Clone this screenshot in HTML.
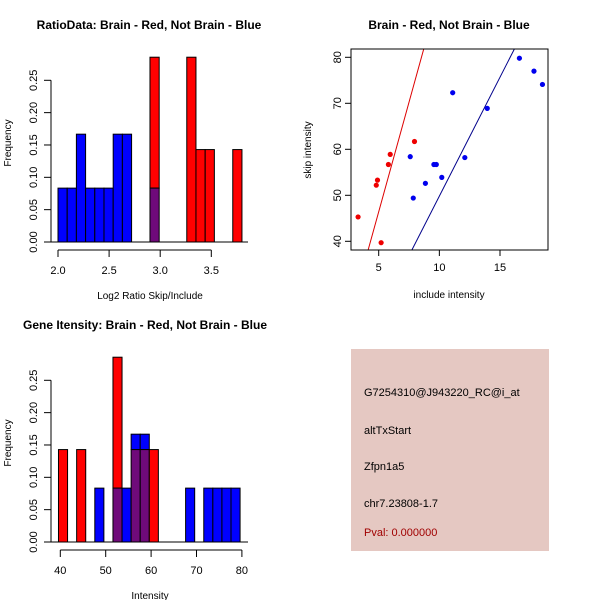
<!DOCTYPE html>
<html><head><meta charset="utf-8"><style>
body{margin:0;background:#fff}
svg{display:block;font-family:"Liberation Sans",sans-serif}
</style></head><body>
<svg id="c" width="600" height="600" viewBox="0 0 600 600">
<rect width="600" height="600" fill="#fff"/>
<text x="149" y="29" font-size="12" font-weight="bold" text-anchor="middle">RatioData: Brain - Red, Not Brain - Blue</text>
<text x="449" y="29" font-size="12" font-weight="bold" text-anchor="middle">Brain - Red, Not Brain - Blue</text>
<text x="145" y="329" font-size="12" font-weight="bold" text-anchor="middle">Gene Itensity: Brain - Red, Not Brain - Blue</text>
<g id="h1"></g>
<g id="h2"></g>
<g id="sc"></g>
<g>
<rect x="351" y="349" width="198" height="202" fill="#e5c8c2"/>
<text x="364" y="396" font-size="11">G7254310@J943220_RC@i_at</text>
<text x="364" y="434" font-size="11">altTxStart</text>
<text x="364" y="470" font-size="11">Zfpn1a5</text>
<text x="364" y="507" font-size="11">chr7.23808-1.7</text>
<text x="364" y="536" font-size="11" fill="#a00000">Pval: 0.000000</text>
</g>
</svg>
<script>
// Ratio histogram data
const h1Start = 2.0, h1Width = 0.09;
const h1Red = [0,0,0,0,0,0,0,0,0,0,0.2857,0,0,0,0.2857,0.1429,0.1429,0,0,0.1429];
const h1Blue = [0.0833,0.0833,0.1667,0.0833,0.0833,0.0833,0.1667,0.1667,0,0,0.0833,0,0,0,0,0,0,0,0,0];
const h1XTicks = [2.0,2.5,3.0,3.5];
const h1XLabels = ["2.0","2.5","3.0","3.5"];
// Intensity histogram data
const h2Start = 39.6, h2Width = 2;
const h2Red = [0.1429,0,0.1429,0,0,0,0.2857,0,0.1429,0.1429,0.1429,0,0,0,0,0,0,0,0,0];
const h2Blue = [0,0,0,0,0.0833,0,0.0833,0.0833,0.1667,0.1667,0,0,0,0,0.0833,0,0.0833,0.0833,0.0833,0.0833];
const h2XTicks = [40,50,60,70,80];
const h2XLabels = ["40","50","60","70","80"];
const yTicks = [0,0.05,0.10,0.15,0.20,0.25];
const yLabels = ["0.00","0.05","0.10","0.15","0.20","0.25"];
// Scatter data
const redX = [3.3,4.8,4.9,5.2,5.8,5.95,7.95];
const redY = [45.3,52.2,53.3,39.7,56.7,58.9,61.7];
const blueX = [7.6,7.85,8.85,9.55,9.75,10.2,11.1,12.1,13.95,16.6,17.8,18.5];
const blueY = [58.4,49.4,52.6,56.7,56.7,53.9,72.3,58.2,68.9,79.8,77,74.1];
const redFit = [-1.23, 9.53];
const blueFit = [-1.88, 5.17];
const scXTicks = [5,10,15];
const scYTicks = [40,50,60,70,80];

const NS="http://www.w3.org/2000/svg";
function mk(p,t,a){const e=document.createElementNS(NS,t);for(const k in a)e.setAttribute(k,a[k]);p.appendChild(e);return e;}

function hist(g,cfg){
  const sx=v=>cfg.x0+(v-cfg.d0)*cfg.kx, sy=v=>cfg.y0-v*cfg.ky;
  for(let i=0;i<cfg.red.length;i++){
    const l=sx(cfg.start+i*cfg.w), r=sx(cfg.start+(i+1)*cfg.w);
    const rv=cfg.red[i], bv=cfg.blue[i], lo=Math.min(rv,bv);
    const hi=Math.max(rv,bv);
    if(hi>0){
      const top=mk(g,'rect',{x:l,y:sy(hi),width:r-l,height:sy(lo)-sy(hi),fill:rv>bv?'#ff0000':'#0000ff',stroke:'#000','stroke-width':1});
      
      
    }
    if(lo>0){
      const ov=mk(g,'rect',{x:l,y:sy(lo),width:r-l,height:sy(0)-sy(lo),fill:'#6f0a7a',stroke:'#000','stroke-width':1});
      
      
    }
  }
  const base=mk(g,'line',{x1:cfg.ax0,x2:cfg.ax1,y1:cfg.y0,y2:cfg.y0,stroke:'#000'});
  
  
  const ya=mk(g,'line',{x1:cfg.ax0,x2:cfg.ax0,y1:cfg.y0,y2:sy(0.25),stroke:'#000'});
  
  
  yTicks.forEach((v,i)=>{
    mk(g,'line',{x1:cfg.ax0-7,x2:cfg.ax0,y1:sy(v),y2:sy(v),stroke:'#000'});
    const t=mk(g,'text',{x:0,y:0,'font-size':11,'text-anchor':'middle',transform:`translate(${cfg.ax0-14},${sy(v)}) rotate(-90)`});
    t.textContent=yLabels[i];
    
    
  });
  const xa=mk(g,'line',{x1:sx(cfg.xt[0]),x2:sx(cfg.xt[cfg.xt.length-1]),y1:cfg.y0+8,y2:cfg.y0+8,stroke:'#000'});
  
  
  cfg.xt.forEach((v,i)=>{
    mk(g,'line',{x1:sx(v),x2:sx(v),y1:cfg.y0+8,y2:cfg.y0+15,stroke:'#000'});
    const t=mk(g,'text',{x:sx(v),y:cfg.y0+32,'font-size':11,'text-anchor':'middle'});
    t.textContent=cfg.xl[i];
    
    
  });
  const xt=mk(g,'text',{x:150,y:cfg.y0+57,'font-size':10,'text-anchor':'middle'});
  xt.textContent=cfg.xtitle;
  
  
  const yt=mk(g,'text',{x:0,y:0,'font-size':10,'text-anchor':'middle',transform:`translate(11,${cfg.y0-99}) rotate(-90)`});
  yt.textContent='Frequency';
  
  
}
hist(document.getElementById('h1'),{start:h1Start,w:h1Width,red:h1Red,blue:h1Blue,x0:58,d0:2.0,kx:102.2,y0:242,ky:646.8,ax0:51,ax1:248,xt:h1XTicks,xl:h1XLabels,xtitle:'Log2 Ratio Skip/Include'});
hist(document.getElementById('h2'),{start:h2Start,w:h2Width,red:h2Red,blue:h2Blue,x0:60.3,d0:40,kx:4.54,y0:542,ky:646.8,ax0:51,ax1:248,xt:h2XTicks,xl:h2XLabels,xtitle:'Intensity'});

(function(){
  const g=document.getElementById('sc');
  const sx=v=>378.7+(v-5)*12.13, sy=v=>241.3-(v-40)*4.6;
  const L=351,R=548,T=49,B=250;
  const defs=mk(g,'defs',{});
  const cp=mk(defs,'clipPath',{id:'clip'});
  mk(cp,'rect',{x:L,y:T,width:R-L,height:B-T});
  const x0=(L-378.7)/12.13+5, x1=(R-378.7)/12.13+5;
  [[redFit,'#dd0000','red-fit-line'],[blueFit,'#00008b','blue-fit-line']].forEach(([f,c,n])=>{
    const l=mk(g,'line',{x1:sx(x0),y1:sy(f[0]+f[1]*x0),x2:sx(x1),y2:sy(f[0]+f[1]*x1),stroke:c,'stroke-width':1,'clip-path':'url(#clip)'});
    
    
  });
  redX.forEach((v,i)=>{
    const c=mk(g,'circle',{cx:sx(v),cy:sy(redY[i]),r:2.6,fill:'#ee0000'});
    
    
  });
  blueX.forEach((v,i)=>{
    const c=mk(g,'circle',{cx:sx(v),cy:sy(blueY[i]),r:2.6,fill:'#0000ee'});
    
    
  });
  const box=mk(g,'rect',{x:L,y:T,width:R-L,height:B-T,fill:'none',stroke:'#000'});
  
  
  scXTicks.forEach(v=>{
    mk(g,'line',{x1:sx(v),x2:sx(v),y1:B,y2:B+6,stroke:'#000'});
    const t=mk(g,'text',{x:sx(v),y:B+21,'font-size':11,'text-anchor':'middle'});
    t.textContent=String(v);
    
    
  });
  scYTicks.forEach(v=>{
    mk(g,'line',{x1:L-6,x2:L,y1:sy(v),y2:sy(v),stroke:'#000'});
    const t=mk(g,'text',{x:0,y:0,'font-size':11,'text-anchor':'middle',transform:`translate(${L-10},${sy(v)}) rotate(-90)`});
    t.textContent=String(v);
    
    
  });
  const xt=mk(g,'text',{x:449,y:298,'font-size':10,'text-anchor':'middle'});
  xt.textContent='include intensity';
  
  
  const yt=mk(g,'text',{x:0,y:0,'font-size':10,'text-anchor':'middle',transform:'translate(311,150) rotate(-90)'});
  yt.textContent='skip intensity';
  
  
})();
</script>
</body></html>
